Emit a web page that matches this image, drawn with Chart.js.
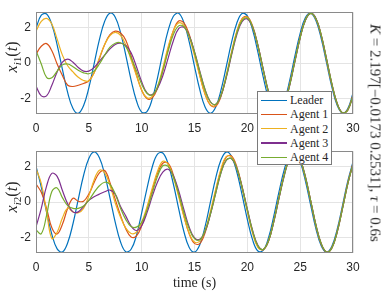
<!DOCTYPE html>
<html>
<head>
<meta charset="utf-8">
<script src="https://cdn.jsdelivr.net/npm/chart.js@4.4.1/dist/chart.umd.min.js"></script>
<style>
  body { margin: 0; background: #fff; }
  #wrap { position: relative; width: 390px; height: 293px; overflow: hidden; }
  #wrap canvas { position: absolute; left: 0; }
  .ylab {
    position: absolute; left: 12.5px;
    font: 16px "Liberation Serif", "DejaVu Serif", serif; color: #262626;
    white-space: nowrap; transform: translate(-50%, -50%) rotate(-90deg);
  }
  .ylab sub { font-size: 70%; vertical-align: -0.3em; }
  #note {
    position: absolute; left: 375px; top: 132.5px;
    font: 15px "Liberation Serif", "DejaVu Serif", serif; color: #262626;
    white-space: nowrap; transform: translate(-50%, -50%) rotate(90deg);
  }
  #legend {
    position: absolute; left: 257px; top: 91px; width: 75px; height: 74px;
    background: #fff; border: 1px solid #7a7a7a; padding-top: 1px; box-sizing: border-box;
    font: 12px "Liberation Serif", "DejaVu Serif", serif; color: #262626;
  }
  #legend .row { height: 14.3px; line-height: 14.3px; white-space: nowrap; display: flex; align-items: center; }
  #legend .sw { display: inline-block; width: 26px; height: 1.3px; margin: 0 3px 0 3px; }
</style>
</head>
<body>
<div id="wrap">
  <canvas id="top" width="390" height="139" style="top:0"></canvas>
  <canvas id="bottom" width="390" height="154" style="top:139px"></canvas>
  <div class="ylab" style="top:57px"><i>x</i><sub><i>i</i>1</sub>(<i>t</i>)</div>
  <div class="ylab" style="top:197px"><i>x</i><sub><i>i</i>2</sub>(<i>t</i>)</div>
  <div id="note"><i>K</i> = 2.197[&minus;0.0173 0.2531], <i>&tau;</i> = 0.6s</div>
  <div id="legend"></div>
</div>
<script>
// time samples (s)
const time = [
  0,0.5,1,1.5,2,2.5,3,3.5,4,4.5,
  5,5.5,6,6.5,7,7.5,8,8.5,9,9.5,
  10,10.5,11,11.5,12,12.5,13,13.5,14,14.5,
  15,15.5,16,16.5,17,17.5,18,18.5,19,19.5,
  20,20.5,21,21.5,22,22.5,23,23.5,24,24.5,
  25,25.5,26,26.5,27,27.5,28,28.5,29,29.5,
  30
];

const seriesNames = ["Leader", "Agent 1", "Agent 2", "Agent 3", "Agent 4"];
const seriesColors = ["#0072BD", "#D95319", "#EDB120", "#7E2F8E", "#77AC30"];
const xTicks = [0, 5, 10, 15, 20, 25, 30];
const yTicks = [-2, 0, 2];

// first state x_i1
const leaderX1 = [
  1.97,2.70,2.77,2.17,1.03,-0.36,-1.67,-2.56,-2.83,-2.40,
  -1.40,-0.04,1.32,2.36,2.82,2.59,1.72,0.44,-0.96,-2.11,
  -2.76,-2.73,-2.02,-0.83,0.57,1.83,2.64,2.81,2.28,1.20,
  -0.18,-1.50,-2.47,-2.83,-2.49,-1.54,-0.22,1.15,2.25,2.80,
  2.66,1.87,0.62,-0.78,-1.99,-2.71,-2.77,-2.15,-1.00,0.39,
  1.68,2.57,2.82,2.39,1.37,0.01,-1.35,-2.38,-2.82,-2.58,
  -1.70
];
const agent1X1 = [
  0.50,0.95,1.10,0.70,-0.05,-0.70,-1.25,-1.32,-1.25,-1.15,
  -1.00,-0.55,0.25,1.05,1.60,1.80,1.70,1.29,0.41,-0.63,
  -1.53,-2.00,-1.96,-1.42,-0.44,0.78,1.82,2.37,2.27,1.62,
  0.56,-0.67,-1.75,-2.37,-2.44,-1.89,-0.78,0.55,1.75,2.51,
  2.62,2.09,1.01,-0.35,-1.64,-2.51,-2.77,-2.29,-1.23,0.13,
  1.45,2.44,2.80,2.49,1.54,0.18,-1.20,-2.28,-2.81,-2.64,
  -1.81
];
const agent2X1 = [
  1.80,2.35,2.52,2.20,1.35,0.45,-0.15,-0.50,-0.80,-0.98,
  -1.00,-0.55,0.30,1.05,1.55,1.73,1.57,1.02,0.18,-0.70,
  -1.51,-1.96,-1.88,-1.32,-0.27,0.91,1.83,2.27,2.13,1.45,
  0.42,-0.73,-1.76,-2.34,-2.39,-1.82,-0.70,0.62,1.78,2.48,
  2.58,2.04,0.94,-0.43,-1.68,-2.53,-2.76,-2.28,-1.21,0.13,
  1.46,2.45,2.80,2.48,1.55,0.19,-1.19,-2.27,-2.81,-2.65,
  -1.82
];
const agent3X1 = [
  -1.30,-1.85,-1.85,-1.25,-0.50,0.05,0.22,0.05,-0.25,-0.45,
  -0.45,-0.25,0.10,0.45,0.80,1.05,1.12,1.00,0.58,-0.19,
  -1.05,-1.68,-1.78,-1.42,-0.71,0.27,1.26,1.94,2.02,1.54,
  0.64,-0.45,-1.49,-2.18,-2.33,-1.84,-0.83,0.44,1.60,2.34,
  2.49,2.02,1.00,-0.32,-1.60,-2.47,-2.74,-2.30,-1.28,0.08,
  1.43,2.41,2.80,2.52,1.56,0.24,-1.17,-2.27,-2.80,-2.65,
  -1.83
];
const agent4X1 = [
  0.70,-0.05,-0.80,-0.82,-0.45,-0.10,-0.05,-0.20,-0.40,-0.55,
  -0.60,-0.45,-0.05,0.45,0.90,1.12,1.15,0.93,0.30,-0.42,
  -1.18,-1.70,-1.80,-1.35,-0.41,0.67,1.61,2.10,2.06,1.52,
  0.61,-0.49,-1.52,-2.18,-2.32,-1.82,-0.78,0.50,1.68,2.40,
  2.54,2.03,0.99,-0.35,-1.62,-2.48,-2.74,-2.29,-1.26,0.11,
  1.43,2.43,2.80,2.50,1.56,0.21,-1.17,-2.28,-2.80,-2.65,
  -1.83
];

// second state x_i2
const leaderX2 = [
  2.03,0.84,-0.56,-1.82,-2.64,-2.81,-2.29,-1.22,0.16,1.50,
  2.46,2.83,2.50,1.56,0.24,-1.14,-2.25,-2.80,-2.66,-1.89,
  -0.62,0.76,1.98,2.71,2.77,2.16,1.02,-0.37,-1.67,-2.56,
  -2.82,-2.40,-1.38,-0.02,1.34,2.37,2.82,2.58,1.71,0.42,
  -0.97,-2.13,-2.76,-2.72,-2.02,-0.80,0.59,1.84,2.65,2.80,
  2.27,1.19,-0.19,-1.52,-2.48,-2.83,-2.49,-1.54,-0.21,1.17,
  2.26
];
const agent1X2 = [
  1.02,0.55,-0.35,-1.45,-1.80,-1.25,-0.35,0.22,0.05,0.05,
  0.45,1.10,1.65,1.78,1.10,0.15,-0.75,-1.51,-1.97,-1.91,
  -1.34,-0.42,0.66,1.62,2.19,2.19,1.53,0.41,-0.78,-1.78,
  -2.33,-2.34,-1.73,-0.65,0.61,1.78,2.54,2.60,2.00,0.88,
  -0.45,-1.69,-2.52,-2.69,-2.21,-1.11,0.25,1.56,2.49,2.80,
  2.39,1.38,0.04,-1.35,-2.38,-2.82,-2.57,-1.68,-0.35,1.04,
  2.17
];
const agent2X2 = [
  1.90,1.05,-0.55,-2.05,-1.70,-0.90,-0.35,-0.55,-0.60,-0.35,
  0.35,1.25,1.80,1.65,0.95,-0.05,-0.85,-1.47,-1.77,-1.70,
  -1.15,-0.27,0.78,1.74,2.30,2.14,1.38,0.32,-0.83,-1.77,
  -2.25,-2.20,-1.60,-0.54,0.70,1.86,2.56,2.55,1.90,0.79,
  -0.52,-1.75,-2.55,-2.68,-2.18,-1.06,0.30,1.58,2.50,2.79,
  2.38,1.37,0.05,-1.34,-2.37,-2.82,-2.58,-1.69,-0.36,1.03,
  2.16
];
const agent3X2 = [
  -1.40,-0.35,0.90,1.62,1.45,0.65,-0.10,-0.55,-0.55,-0.25,
  0.10,0.30,0.45,0.58,0.68,0.45,-0.25,-0.79,-1.35,-1.60,
  -1.33,-0.61,0.32,1.13,1.69,1.85,1.49,0.64,-0.43,-1.41,
  -2.02,-2.10,-1.66,-0.71,0.48,1.63,2.35,2.45,1.90,0.85,
  -0.40,-1.60,-2.43,-2.67,-2.20,-1.12,0.22,1.50,2.46,2.77,
  2.40,1.43,0.06,-1.30,-2.36,-2.82,-2.58,-1.70,-0.38,1.01,
  2.15
];
const agent4X2 = [
  -1.57,-1.78,-0.75,0.60,0.80,0.25,-0.20,-0.35,-0.35,-0.22,
  0.10,0.55,0.92,1.12,1.00,0.45,-0.35,-0.99,-1.38,-1.41,
  -1.14,-0.45,0.51,1.45,2.05,2.01,1.43,0.47,-0.60,-1.51,
  -2.06,-2.12,-1.63,-0.69,0.50,1.65,2.36,2.46,1.91,0.85,
  -0.43,-1.64,-2.47,-2.67,-2.19,-1.10,0.25,1.52,2.47,2.77,
  2.40,1.40,0.06,-1.32,-2.36,-2.82,-2.58,-1.68,-0.38,1.01,
  2.15
];

const tickFont = { family: "'Liberation Sans', Arial, sans-serif", size: 12 };
const axisColor = "#262626";

// box around the plot area, like matlab "box on"
const framePlugin = {
  id: "frame",
  afterDraw(chart) {
    const { ctx, chartArea: a } = chart;
    ctx.save();
    ctx.strokeStyle = "#8a8a8a";
    ctx.lineWidth = 1;
    ctx.strokeRect(Math.round(a.left) + 0.5, Math.round(a.top) + 0.5,
      Math.round(a.right - a.left) - 1, Math.round(a.bottom - a.top) - 1);
    ctx.restore();
  }
};

function makeChart(id, series, xAxisHeight, showTitle) {
  const datasets = series.map((vals, k) => ({
    label: seriesNames[k],
    data: time.map((t, i) => ({ x: t, y: vals[i] })),
    borderColor: seriesColors[k],
    borderWidth: 1.2,
    pointRadius: 0,
    tension: 0.4,
    fill: false,
    order: series.length - k
  }));
  return new Chart(document.getElementById(id), {
    type: "line",
    data: { datasets },
    plugins: [framePlugin],
    options: {
      responsive: false,
      animation: false,
      layout: { padding: { left: 0, right: 37, top: 4, bottom: 0 } },
      plugins: { legend: { display: false }, tooltip: { enabled: false } },
      scales: {
        x: {
          type: "linear", min: 0, max: 30,
          afterBuildTicks: s => { s.ticks = xTicks.map(v => ({ value: v })); },
          afterFit: s => { s.height = xAxisHeight; },
          ticks: { font: tickFont, color: axisColor, padding: 7, maxRotation: 0 },
          grid: { color: "#e4e4e4", drawTicks: false },
          border: { display: false },
          title: {
            display: showTitle, text: "time (s)", color: axisColor,
            font: { family: "'Liberation Serif', 'DejaVu Serif', serif", size: 14 },
            padding: { top: 0, bottom: 1 }
          }
        },
        y: {
          min: -2.87, max: 2.87,
          afterBuildTicks: s => { s.ticks = yTicks.map(v => ({ value: v })); },
          afterFit: s => { s.width = 36; },
          ticks: { font: tickFont, color: axisColor, padding: 5 },
          grid: { color: "#e4e4e4", drawTicks: false },
          border: { display: false }
        }
      }
    }
  });
}

makeChart("top", [leaderX1, agent1X1, agent2X1, agent3X1, agent4X1], 25, false);
makeChart("bottom", [leaderX2, agent1X2, agent2X2, agent3X2, agent4X2], 40, true);

// legend box
const legend = document.getElementById("legend");
seriesNames.forEach((name, k) => {
  const row = document.createElement("div");
  row.className = "row";
  const sw = document.createElement("span");
  sw.className = "sw";
  sw.style.background = seriesColors[k];
  row.appendChild(sw);
  row.appendChild(document.createTextNode(name));
  legend.appendChild(row);
});
</script>
</body>
</html>
